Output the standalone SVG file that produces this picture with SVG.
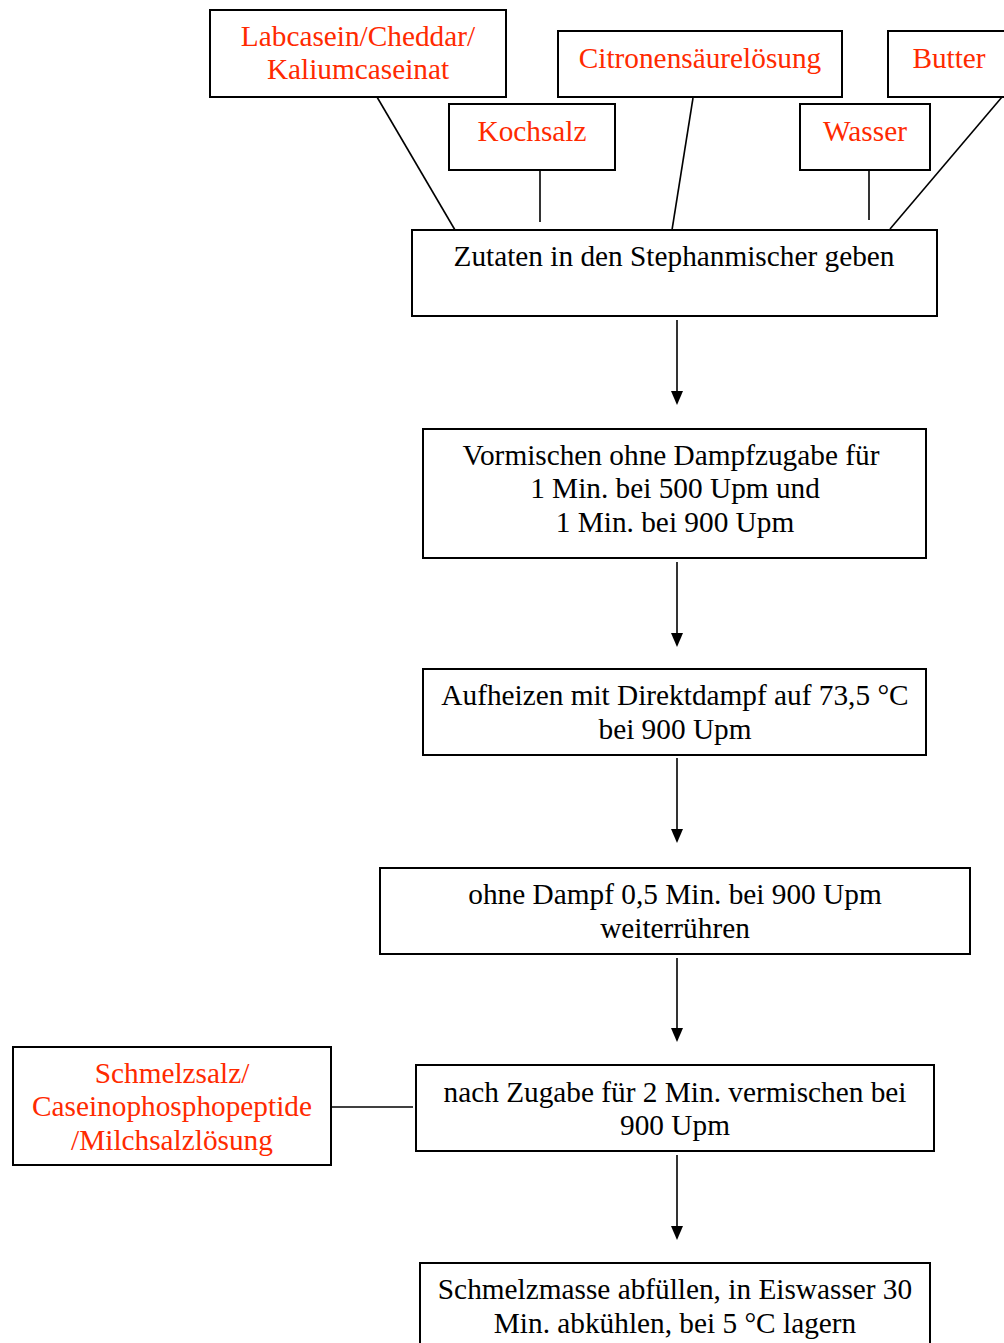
<svg xmlns="http://www.w3.org/2000/svg" width="1004" height="1343" viewBox="0 0 1004 1343">
<defs>
<style>
rect{fill:#fff;stroke:#000;stroke-width:2}
text{font-family:"Liberation Serif","Times New Roman",serif;font-size:29.3px;text-anchor:middle;fill:#000}
.r{fill:#ff2a00}
.c line{stroke:#000;stroke-width:1.6}
</style>
</defs>
<rect x="0" y="0" width="1004" height="1343" style="stroke:none"/>
<g class="c" id="connectors">
<line x1="377" y1="97" x2="455" y2="230"/>
<line x1="540" y1="170" x2="540" y2="222"/>
<line x1="693" y1="98" x2="672" y2="230"/>
<line x1="869" y1="170" x2="869" y2="220"/>
<line x1="1002" y1="97" x2="890" y2="229"/>
<line x1="331" y1="1107" x2="413" y2="1107"/>
<line x1="677" y1="320" x2="677" y2="400"/>
<line x1="677" y1="562" x2="677" y2="642"/>
<line x1="677" y1="758" x2="677" y2="838"/>
<line x1="677" y1="958" x2="677" y2="1037"/>
<line x1="677" y1="1155" x2="677" y2="1235"/>
<path d="M671,391 L683,391 L677,405 Z"/>
<path d="M671,633 L683,633 L677,647 Z"/>
<path d="M671,829 L683,829 L677,843 Z"/>
<path d="M671,1028 L683,1028 L677,1042 Z"/>
<path d="M671,1226 L683,1226 L677,1240 Z"/>
</g>
<g id="labcasein"><rect x="210" y="10" width="296" height="87"/><text class="r" x="358" y="46">Labcasein/Cheddar/</text><text class="r" x="358" y="79">Kaliumcaseinat</text></g>
<g id="citronen"><rect x="558" y="31" width="284" height="66"/><text class="r" x="700" y="68">Citronensäurelösung</text></g>
<g id="butter"><rect x="888" y="31" width="120" height="66"/><text class="r" x="949" y="68">Butter</text></g>
<g id="kochsalz"><rect x="449" y="104" width="166" height="66"/><text class="r" x="532" y="141">Kochsalz</text></g>
<g id="wasser"><rect x="800" y="104" width="130" height="66"/><text class="r" x="865" y="141">Wasser</text></g>
<g id="zutaten"><rect x="412" y="230" width="525" height="86"/><text x="674" y="266">Zutaten in den Stephanmischer geben</text></g>
<g id="vormischen"><rect x="423" y="429" width="503" height="129"/><text x="671" y="465">Vormischen ohne Dampfzugabe für</text><text x="675" y="498">1 Min. bei 500 Upm und</text><text x="675" y="532">1 Min. bei 900 Upm</text></g>
<g id="aufheizen"><rect x="423" y="669" width="503" height="86"/><text x="675" y="705">Aufheizen mit Direktdampf auf 73,5 °C</text><text x="675" y="739">bei 900 Upm</text></g>
<g id="ohnedampf"><rect x="380" y="868" width="590" height="86"/><text x="675" y="904">ohne Dampf 0,5 Min. bei 900 Upm</text><text x="675" y="938">weiterrühren</text></g>
<g id="schmelzsalz"><rect x="13" y="1047" width="318" height="118"/><text class="r" x="172" y="1083">Schmelzsalz/</text><text class="r" x="172" y="1116">Caseinophosphopeptide</text><text class="r" x="172" y="1150">/Milchsalzlösung</text></g>
<g id="zugabe"><rect x="416" y="1065" width="518" height="86"/><text x="675" y="1102">nach Zugabe für 2 Min. vermischen bei</text><text x="675" y="1135">900 Upm</text></g>
<g id="abfuellen"><rect x="420" y="1263" width="510" height="90"/><text x="675" y="1299">Schmelzmasse abfüllen, in Eiswasser 30</text><text x="675" y="1333">Min. abkühlen, bei 5 °C lagern</text></g>
</svg>
